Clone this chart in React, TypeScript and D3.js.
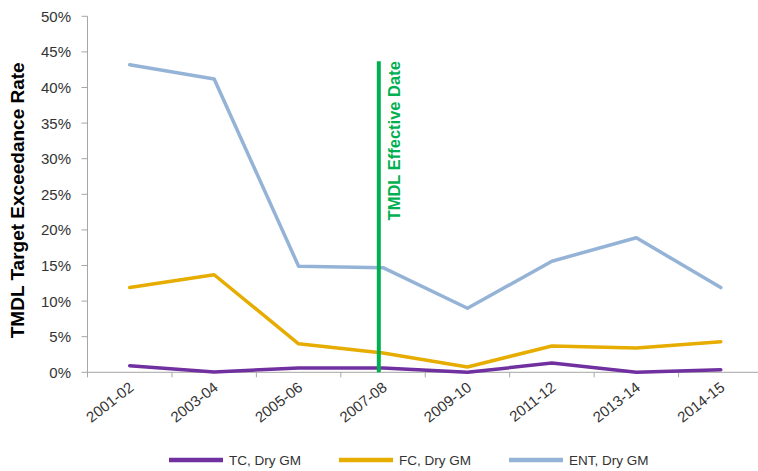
import React from "react";
import * as d3 from "d3";

const categories = ["2001-02", "2003-04", "2005-06", "2007-08", "2009-10", "2011-12", "2013-14", "2014-15"];
const tcValues = [0.93, 0.05, 0.6, 0.6, 0.0, 1.3, 0.0, 0.35];
const fcValues = [11.9, 13.7, 4.0, 2.7, 0.75, 3.7, 3.4, 4.3];
const entValues = [43.2, 41.2, 14.9, 14.7, 9.0, 15.6, 18.9, 11.9];
const seriesNames = ["TC, Dry GM", "FC, Dry GM", "ENT, Dry GM"];
const seriesColors = ["#7030A0", "#E6AC00", "#95B3D7"];
const yTicks = [0, 5, 10, 15, 20, 25, 30, 35, 40, 45, 50];
const effectiveCategory = "2007-08";
const effectiveTop = 43.7;

const W = 758;
const H = 471;
const left = 87.5;
const right = 763;
const top = 16.3;
const bottom = 372.3;

export default function App() {
  const x = d3.scaleBand<string>().domain(categories).range([left, right]);
  const y = d3.scaleLinear().domain([0, 50]).range([bottom, top]);
  const cx = (c: string) => (x(c) as number) + x.bandwidth() / 2;
  const line = d3
    .line<number>()
    .x((_, i) => cx(categories[i]))
    .y((v) => y(v));
  const series = [tcValues, fcValues, entValues];
  const font = "'Liberation Sans', Arial, sans-serif";
  const effX = (x(effectiveCategory) as number) + x.bandwidth() * 0.45;
  const legendX = [169, 339, 509];
  const legendY = 460;

  return (
    <svg width={W} height={H} style={{ position: "absolute", left: 0, top: 0, background: "#fff" }} fontFamily={font}>
      {/* y axis */}
      <line x1={left} x2={left} y1={top} y2={bottom} stroke="#a6a6a6" strokeWidth={1} />
      {yTicks.map((t) => (
        <g key={t}>
          <line x1={left - 6} x2={left} y1={y(t)} y2={y(t)} stroke="#a6a6a6" />
          <text x={71} y={y(t)} dy="0.36em" textAnchor="end" fontSize={15} fill="#333">
            {t}%
          </text>
        </g>
      ))}
      {/* x axis */}
      <line x1={left} x2={W} y1={bottom} y2={bottom} stroke="#a6a6a6" />
      {categories.map((c) => (
        <line key={"t" + c} x1={x(c) as number} x2={x(c) as number} y1={bottom} y2={bottom + 5} stroke="#a6a6a6" />
      ))}
      {categories.map((c) => (
        <text
          key={c}
          transform={`translate(${cx(c) + 5},${bottom + 17}) rotate(-38)`}
          textAnchor="end"
          fontSize={15}
          fill="#333"
        >
          {c}
        </text>
      ))}
      {/* y title */}
      <text
        transform={`translate(24,${(top + bottom) / 2 + 6}) rotate(-90)`}
        textAnchor="middle"
        fontSize={19}
        fontWeight="bold"
        fill="#000"
      >
        TMDL Target Exceedance Rate
      </text>
      {/* series */}
      {series.map((s, i) => (
        <path key={i} d={line(s) || ""} fill="none" stroke={seriesColors[i]} strokeWidth={3.5} strokeLinejoin="round" strokeLinecap="round" />
      ))}
      {/* effective date */}
      <line x1={effX} x2={effX} y1={y(effectiveTop)} y2={y(0)} stroke="#00B050" strokeWidth={4} />
      <text
        transform={`translate(${effX + 21},${y(effectiveTop)}) rotate(-90)`}
        textAnchor="end"
        fontSize={16.5}
        fontWeight="bold"
        fill="#00B050"
      >
        TMDL Effective Date
      </text>
      {/* legend */}
      {seriesNames.map((n, i) => (
        <g key={n}>
          <line x1={legendX[i]} x2={legendX[i] + 54} y1={legendY} y2={legendY} stroke={seriesColors[i]} strokeWidth={4.5} />
          <text x={legendX[i] + 60} y={legendY} dy="0.35em" fontSize={13.5} fill="#333">
            {n}
          </text>
        </g>
      ))}
    </svg>
  );
}
